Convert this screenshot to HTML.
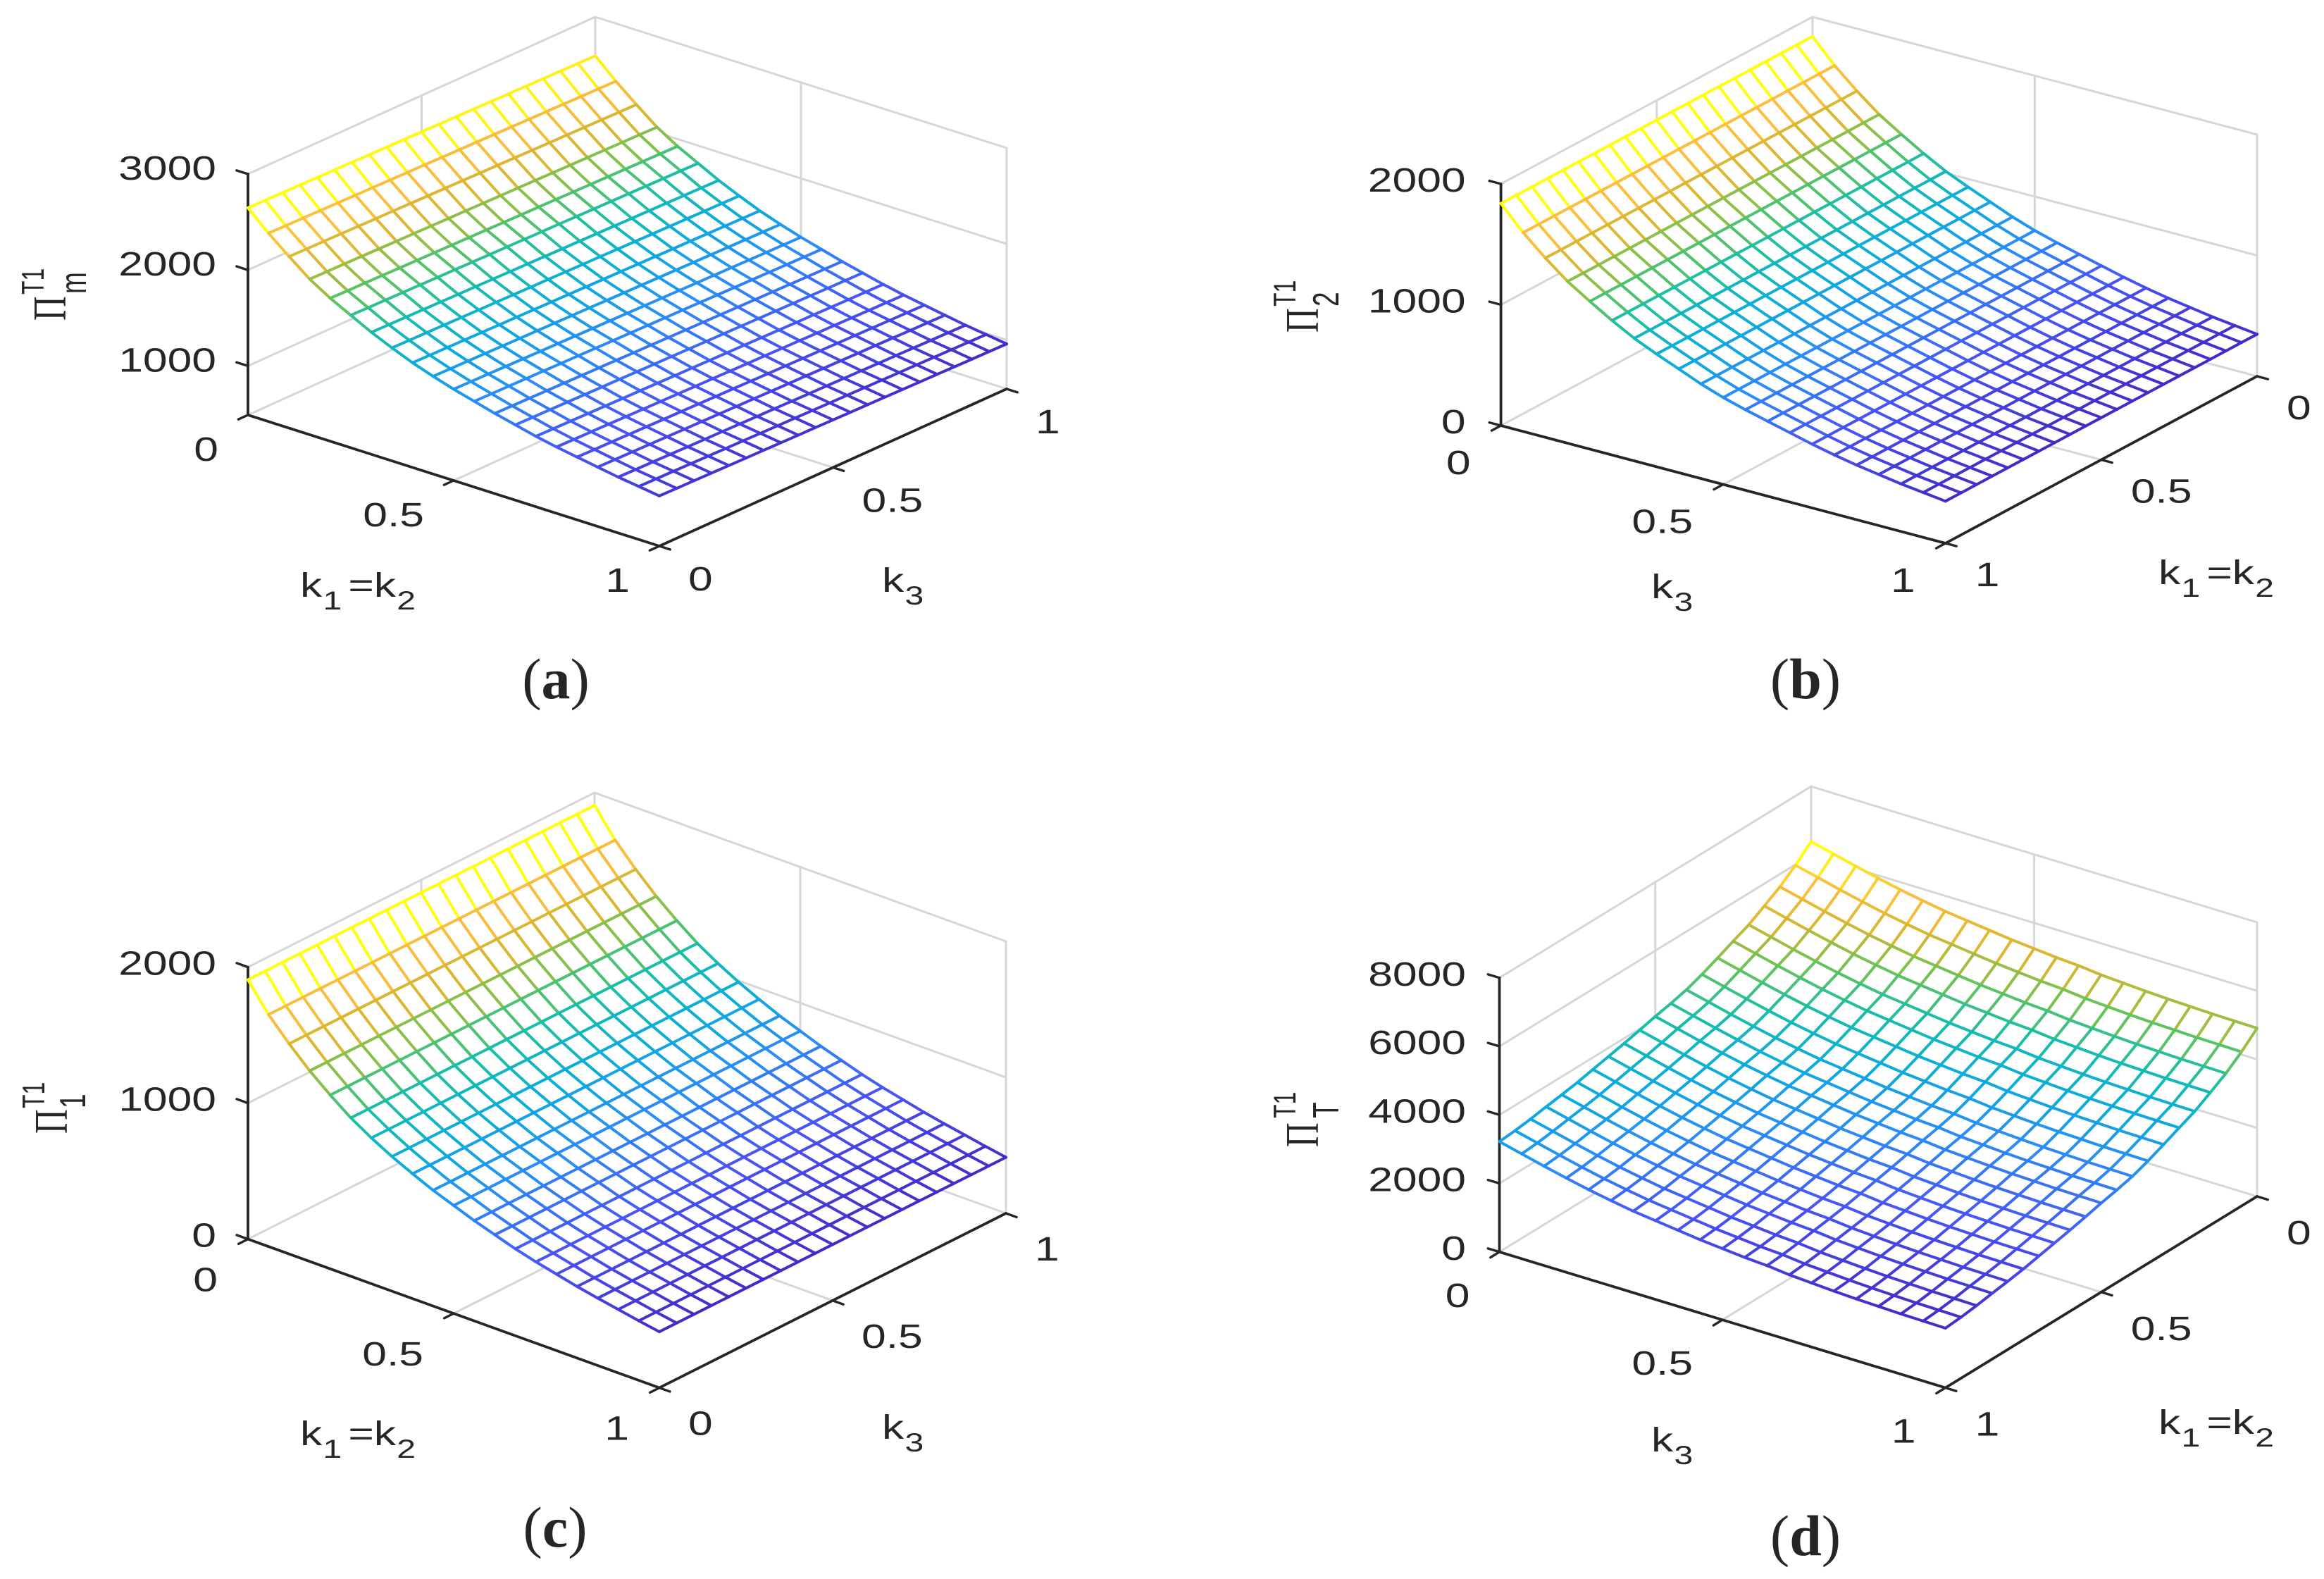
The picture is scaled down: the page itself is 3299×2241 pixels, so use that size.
<!DOCTYPE html>
<html lang="en">
<head>
<meta charset="utf-8">
<title>Profit surfaces</title>
<style>
html,body{margin:0;padding:0;background:#fff;}
svg{display:block;fill:#262626;font-family:"Liberation Sans",sans-serif;}
</style>
</head>
<body>
<svg id="figure" xmlns="http://www.w3.org/2000/svg" width="3299" height="2241" viewBox="0 0 3299 2241">
<rect width="3299" height="2241" fill="#ffffff"/>
<g id="panel-a"></g>
<g id="panel-b"></g>
<g id="panel-c"></g>
<g id="panel-d"></g>
</svg>
<script>
// ---------- data ----------
const kAsc = [0,0.05,0.1,0.15,0.2,0.25,0.3,0.35,0.4,0.45,0.5,0.55,0.6,0.65,0.7,0.75,0.8,0.85,0.9,0.95,1];
const kDesc = [1,0.95,0.9,0.85,0.8,0.75,0.7,0.65,0.6,0.55,0.5,0.45,0.4,0.35,0.3,0.25,0.2,0.15,0.1,0.05,0];
const axisTicks = [0,0.5,1];
const axisTickLabels = ['0','0.5','1'];
const zTicksA = [1000,2000,3000];
const zTicksB = [0,1000,2000];
const zTicksC = [0,1000,2000];
const zTicksD = [0,2000,4000,6000,8000];
const zDomainA = [489,3000];
const zDomainB = [0,2000];
const zDomainC = [0,2000];
const zDomainD = [0,8000];
const zA = [
[2648,2645,2643,2640,2637,2634,2632,2629,2626,2624,2621,2618,2616,2613,2610,2607,2605,2602,2599,2597,2594],
[2452,2449,2447,2444,2441,2438,2436,2433,2430,2428,2425,2422,2420,2417,2414,2411,2409,2406,2403,2401,2398],
[2277,2274,2272,2269,2266,2263,2261,2258,2255,2253,2250,2247,2245,2242,2239,2236,2234,2231,2228,2226,2223],
[2110,2107,2105,2102,2099,2096,2094,2091,2088,2086,2083,2080,2078,2075,2072,2069,2067,2064,2061,2059,2056],
[1979,1976,1974,1971,1968,1965,1963,1960,1957,1955,1952,1949,1947,1944,1941,1938,1936,1933,1930,1928,1925],
[1870,1867,1865,1862,1859,1856,1854,1851,1848,1846,1843,1840,1838,1835,1832,1829,1827,1824,1821,1819,1816],
[1761,1758,1756,1753,1750,1747,1745,1742,1739,1737,1734,1731,1729,1726,1723,1720,1718,1715,1712,1710,1707],
[1667,1664,1662,1659,1656,1653,1651,1648,1645,1643,1640,1637,1635,1632,1629,1626,1624,1621,1618,1616,1613],
[1580,1577,1575,1572,1569,1566,1564,1561,1558,1556,1553,1550,1548,1545,1542,1539,1537,1534,1531,1529,1526],
[1507,1504,1502,1499,1496,1493,1491,1488,1485,1483,1480,1477,1475,1472,1469,1466,1464,1461,1458,1456,1453],
[1441,1438,1436,1433,1430,1427,1425,1422,1419,1417,1414,1411,1409,1406,1403,1400,1398,1395,1392,1390,1387],
[1383,1380,1378,1375,1372,1369,1367,1364,1361,1359,1356,1353,1351,1348,1345,1342,1340,1337,1334,1332,1329],
[1325,1322,1320,1317,1314,1311,1309,1306,1303,1301,1298,1295,1293,1290,1287,1284,1282,1279,1276,1274,1271],
[1274,1271,1269,1266,1263,1260,1258,1255,1252,1250,1247,1244,1242,1239,1236,1233,1231,1228,1225,1223,1220],
[1223,1220,1218,1215,1212,1209,1207,1204,1201,1199,1196,1193,1191,1188,1185,1182,1180,1177,1174,1172,1169],
[1180,1177,1175,1172,1169,1166,1164,1161,1158,1156,1153,1150,1148,1145,1142,1139,1137,1134,1131,1129,1126],
[1143,1140,1138,1135,1132,1129,1127,1124,1121,1119,1116,1113,1111,1108,1105,1102,1100,1097,1094,1092,1089],
[1107,1104,1102,1099,1096,1093,1091,1088,1085,1083,1080,1077,1075,1072,1069,1066,1064,1061,1058,1056,1053],
[1071,1068,1066,1063,1060,1057,1055,1052,1049,1047,1044,1041,1039,1036,1033,1030,1028,1025,1022,1020,1017],
[1042,1039,1037,1034,1031,1028,1026,1023,1020,1018,1015,1012,1010,1007,1004,1001,999,996,993,991,988],
[1012,1009,1007,1004,1001,998,996,993,990,988,985,982,980,977,974,971,969,966,963,961,958]
];
const zB = [
[1838,1838,1838,1838,1838,1838,1838,1838,1838,1838,1838,1838,1838,1838,1838,1838,1838,1838,1838,1838,1838],
[1646,1646,1646,1646,1646,1646,1646,1646,1646,1646,1646,1646,1646,1646,1646,1646,1646,1646,1646,1646,1646],
[1484,1484,1484,1484,1484,1484,1484,1484,1484,1484,1484,1484,1484,1484,1484,1484,1484,1484,1484,1484,1484],
[1339,1339,1339,1339,1339,1339,1339,1339,1339,1339,1339,1339,1339,1339,1339,1339,1339,1339,1339,1339,1339],
[1223,1223,1223,1223,1223,1223,1223,1223,1223,1223,1223,1223,1223,1223,1223,1223,1223,1223,1223,1223,1223],
[1113,1113,1113,1113,1113,1113,1113,1113,1113,1113,1113,1113,1113,1113,1113,1113,1113,1113,1113,1113,1113],
[1014,1014,1014,1014,1014,1014,1014,1014,1014,1014,1014,1014,1014,1014,1014,1014,1014,1014,1014,1014,1014],
[933,933,933,933,933,933,933,933,933,933,933,933,933,933,933,933,933,933,933,933,933],
[858,858,858,858,858,858,858,858,858,858,858,858,858,858,858,858,858,858,858,858,858],
[783,783,783,783,783,783,783,783,783,783,783,783,783,783,783,783,783,783,783,783,783],
[719,719,719,719,719,719,719,719,719,719,719,719,719,719,719,719,719,719,719,719,719],
[667,667,667,667,667,667,667,667,667,667,667,667,667,667,667,667,667,667,667,667,667],
[620,620,620,620,620,620,620,620,620,620,620,620,620,620,620,620,620,620,620,620,620],
[574,574,574,574,574,574,574,574,574,574,574,574,574,574,574,574,574,574,574,574,574],
[528,528,528,528,528,528,528,528,528,528,528,528,528,528,528,528,528,528,528,528,528],
[487,487,487,487,487,487,487,487,487,487,487,487,487,487,487,487,487,487,487,487,487],
[452,452,452,452,452,452,452,452,452,452,452,452,452,452,452,452,452,452,452,452,452],
[423,423,423,423,423,423,423,423,423,423,423,423,423,423,423,423,423,423,423,423,423],
[394,394,394,394,394,394,394,394,394,394,394,394,394,394,394,394,394,394,394,394,394],
[371,371,371,371,371,371,371,371,371,371,371,371,371,371,371,371,371,371,371,371,371],
[348,348,348,348,348,348,348,348,348,348,348,348,348,348,348,348,348,348,348,348,348]
];
const zC = [
[1907,1907,1907,1907,1907,1907,1907,1907,1907,1907,1907,1907,1907,1907,1907,1907,1907,1907,1907,1907,1907],
[1706,1706,1706,1706,1706,1706,1706,1706,1706,1706,1706,1706,1706,1706,1706,1706,1706,1706,1706,1706,1706],
[1546,1546,1546,1546,1546,1546,1546,1546,1546,1546,1546,1546,1546,1546,1546,1546,1546,1546,1546,1546,1546],
[1402,1402,1402,1402,1402,1402,1402,1402,1402,1402,1402,1402,1402,1402,1402,1402,1402,1402,1402,1402,1402],
[1278,1278,1278,1278,1278,1278,1278,1278,1278,1278,1278,1278,1278,1278,1278,1278,1278,1278,1278,1278,1278],
[1165,1165,1165,1165,1165,1165,1165,1165,1165,1165,1165,1165,1165,1165,1165,1165,1165,1165,1165,1165,1165],
[1072,1072,1072,1072,1072,1072,1072,1072,1072,1072,1072,1072,1072,1072,1072,1072,1072,1072,1072,1072,1072],
[990,990,990,990,990,990,990,990,990,990,990,990,990,990,990,990,990,990,990,990,990],
[918,918,918,918,918,918,918,918,918,918,918,918,918,918,918,918,918,918,918,918,918],
[851,851,851,851,851,851,851,851,851,851,851,851,851,851,851,851,851,851,851,851,851],
[794,794,794,794,794,794,794,794,794,794,794,794,794,794,794,794,794,794,794,794,794],
[737,737,737,737,737,737,737,737,737,737,737,737,737,737,737,737,737,737,737,737,737],
[688,688,688,688,688,688,688,688,688,688,688,688,688,688,688,688,688,688,688,688,688],
[639,639,639,639,639,639,639,639,639,639,639,639,639,639,639,639,639,639,639,639,639],
[598,598,598,598,598,598,598,598,598,598,598,598,598,598,598,598,598,598,598,598,598],
[562,562,562,562,562,562,562,562,562,562,562,562,562,562,562,562,562,562,562,562,562],
[526,526,526,526,526,526,526,526,526,526,526,526,526,526,526,526,526,526,526,526,526],
[495,495,495,495,495,495,495,495,495,495,495,495,495,495,495,495,495,495,495,495,495],
[467,467,467,467,467,467,467,467,467,467,467,467,467,467,467,467,467,467,467,467,467],
[438,438,438,438,438,438,438,438,438,438,438,438,438,438,438,438,438,438,438,438,438],
[412,412,412,412,412,412,412,412,412,412,412,412,412,412,412,412,412,412,412,412,412]
];
const zD = [
[3220,3260,3320,3400,3470,3550,3650,3750,3850,3960,4080,4180,4300,4470,4670,4880,5080,5350,5630,5980,6390],
[3060,3100,3160,3240,3310,3390,3490,3590,3690,3800,3920,4020,4140,4310,4510,4720,4920,5190,5470,5820,6230],
[2900,2940,3000,3080,3150,3230,3330,3430,3530,3640,3760,3860,3980,4150,4350,4560,4760,5030,5310,5660,6070],
[2750,2790,2850,2930,3000,3080,3180,3280,3380,3490,3610,3710,3830,4000,4200,4410,4610,4880,5160,5510,5920],
[2610,2650,2710,2790,2860,2940,3040,3140,3240,3350,3470,3570,3690,3860,4060,4270,4470,4740,5020,5370,5780],
[2490,2530,2590,2670,2740,2820,2920,3020,3120,3230,3350,3450,3570,3740,3940,4150,4350,4620,4900,5250,5660],
[2380,2420,2480,2560,2630,2710,2810,2910,3010,3120,3240,3340,3460,3630,3830,4040,4240,4510,4790,5140,5550],
[2300,2340,2400,2480,2550,2630,2730,2830,2930,3040,3160,3260,3380,3550,3750,3960,4160,4430,4710,5060,5470],
[2220,2260,2320,2400,2470,2550,2650,2750,2850,2960,3080,3180,3300,3470,3670,3880,4080,4350,4630,4980,5390],
[2140,2180,2240,2320,2390,2470,2570,2670,2770,2880,3000,3100,3220,3390,3590,3800,4000,4270,4550,4900,5310],
[2080,2120,2180,2260,2330,2410,2510,2610,2710,2820,2940,3040,3160,3330,3530,3740,3940,4210,4490,4840,5250],
[2020,2060,2120,2200,2270,2350,2450,2550,2650,2760,2880,2980,3100,3270,3470,3680,3880,4150,4430,4780,5190],
[1980,2020,2080,2160,2230,2310,2410,2510,2610,2720,2840,2940,3060,3230,3430,3640,3840,4110,4390,4740,5150],
[1910,1950,2010,2090,2160,2240,2340,2440,2540,2650,2770,2870,2990,3160,3360,3570,3770,4040,4320,4670,5080],
[1870,1910,1970,2050,2120,2200,2300,2400,2500,2610,2730,2830,2950,3120,3320,3530,3730,4000,4280,4630,5040],
[1830,1870,1930,2010,2080,2160,2260,2360,2460,2570,2690,2790,2910,3080,3280,3490,3690,3960,4240,4590,5000],
[1800,1840,1900,1980,2050,2130,2230,2330,2430,2540,2660,2760,2880,3050,3250,3460,3660,3930,4210,4560,4970],
[1780,1820,1880,1960,2030,2110,2210,2310,2410,2520,2640,2740,2860,3030,3230,3440,3640,3910,4190,4540,4950],
[1760,1800,1860,1940,2010,2090,2190,2290,2390,2500,2620,2720,2840,3010,3210,3420,3620,3890,4170,4520,4930],
[1750,1790,1850,1930,2000,2080,2180,2280,2380,2490,2610,2710,2830,3000,3200,3410,3610,3880,4160,4510,4920],
[1740,1780,1840,1920,1990,2070,2170,2270,2370,2480,2600,2700,2820,2990,3190,3400,3600,3870,4150,4500,4910]
];
const xLabelParts13 = [['k',0],['3',1]];
const labelParts12 = [['k',0],['1',1],['=',0],['k',0],['2',1]];
const captionLetters = ['a','b','c','d'];

// ---------- colormap (parula-like) ----------
const cmapPos = [0,0.125,0.25,0.375,0.5,0.625,0.75,0.875,1];
const cmapRGB = [[66,44,200],[72,84,246],[42,140,248],[10,172,222],[22,190,170],[104,196,84],[216,182,48],[253,190,60],[255,255,10]];
function colorOf(t){
  t = Math.max(0, Math.min(1, t));
  let s = 0;
  while (s < cmapPos.length - 2 && t > cmapPos[s + 1]) s++;
  const f = (t - cmapPos[s]) / (cmapPos[s + 1] - cmapPos[s]);
  const c = cmapRGB[s].map((v, n) => Math.round(v + f * (cmapRGB[s + 1][n] - v)));
  return 'rgb(' + c.join(',') + ')';
}

// ---------- drawing helpers ----------
const NS = 'http://www.w3.org/2000/svg';
const AXIS_COLOR = '#262626';
const GRID_COLOR = '#d6d6d6';
function svgEl(tag, parent){
  const el = document.createElementNS(NS, tag);
  parent.appendChild(el);
  return el;
}
function drawLine(parent, p, q, color, width){
  const l = svgEl('line', parent);
  l.setAttribute('x1', p.x.toFixed(2));
  l.setAttribute('y1', p.y.toFixed(2));
  l.setAttribute('x2', q.x.toFixed(2));
  l.setAttribute('y2', q.y.toFixed(2));
  l.setAttribute('stroke', color);
  l.setAttribute('stroke-width', width);
  l.setAttribute('stroke-linecap', 'round');
  return l;
}
function stretchedText(parent, str, x, y, anchor){
  const t = svgEl('text', parent);
  t.setAttribute('transform', 'translate(' + x + ',' + y + ') scale(1.3,1)');
  t.setAttribute('text-anchor', anchor);
  t.setAttribute('font-size', '48');
  t.textContent = str;
  return t;
}
function partsText(parent, parts, x, y){
  const t = stretchedText(parent, '', x, y, 'start');
  let wasSub = 0;
  parts.forEach(function(part){
    const s = svgEl('tspan', t);
    s.setAttribute('font-size', part[1] ? '37' : '48');
    s.setAttribute('dy', part[1] === wasSub ? '0' : (part[1] ? '18' : '-18'));
    if (part[0] === '=') s.setAttribute('dx', '7');
    if (part[1]) s.setAttribute('dx', '1');
    s.textContent = part[0];
    wasSub = part[1];
  });
  return t;
}
function rotatedText(parent, str, x, y, size, family){
  const t = svgEl('text', parent);
  t.setAttribute('transform', 'translate(' + x + ',' + y + ') rotate(-90) scale(1,1.4)');
  t.setAttribute('font-size', size);
  t.setAttribute('font-family', family);
  t.textContent = str;
  return t;
}

// ---------- panel ----------
function drawPanel(cfg){
  const root = document.getElementById(cfg.id);
  const A = cfg.A, B = cfg.B, C = cfg.C;
  const D = {x: A.x + C.x - B.x, y: A.y + C.y - B.y};
  const z0 = cfg.zDomain[0], z1 = cfg.zDomain[1];
  const xScale = k => (k - cfg.xValues[0]) / (cfg.xValues[cfg.xValues.length - 1] - cfg.xValues[0]);
  const yScale = k => (k - cfg.yValues[0]) / (cfg.yValues[cfg.yValues.length - 1] - cfg.yValues[0]);
  const zScale = z => (z - z0) / (z1 - z0) * cfg.H;
  const project = function(xv, yv, zv){
    const u = xScale(xv), v = yScale(yv);
    return {
      x: A.x + u * (B.x - A.x) + v * (D.x - A.x),
      y: A.y + u * (B.y - A.y) + v * (D.y - A.y) - zScale(zv)
    };
  };
  const xa = cfg.xValues, ya = cfg.yValues;
  const xStart = xa[0], xEnd = xa[xa.length - 1], yStart = ya[0], yEnd = ya[ya.length - 1];

  // back walls and floor
  const walls = svgEl('g', root);
  
  
  const wallSeg = function(p, q, name){
    const l = drawLine(walls, p, q, GRID_COLOR, 3);
    
    
  };
  [z0].concat(cfg.zTicks.filter(t => t !== z0)).concat(cfg.zTicks.indexOf(z1) < 0 ? [z1] : []).forEach(function(z){
    wallSeg(project(xStart, yStart, z), project(xStart, yEnd, z), 'left-wall-z-gridline');
    wallSeg(project(xStart, yEnd, z), project(xEnd, yEnd, z), 'right-wall-z-gridline');
  });
  wallSeg(project(xStart, yEnd, z0), project(xStart, yEnd, z1), 'back-corner-edge');
  wallSeg(project(xEnd, yEnd, z0), project(xEnd, yEnd, z1), 'right-corner-edge');
  const midX = (xStart + xEnd) / 2, midY = (yStart + yEnd) / 2;
  wallSeg(project(midX, yStart, z0), project(midX, yEnd, z0), 'floor-x-gridline');
  wallSeg(project(midX, yEnd, z0), project(midX, yEnd, z1), 'right-wall-x-gridline');
  wallSeg(project(xStart, midY, z0), project(xEnd, midY, z0), 'floor-y-gridline');
  wallSeg(project(xStart, midY, z0), project(xStart, midY, z1), 'left-wall-y-gridline');

  // axis lines
  const axes = svgEl('g', root);
  
  
  const axisSeg = function(p, q, name){
    const l = drawLine(axes, p, q, AXIS_COLOR, 3.8);
    
    
  };
  axisSeg(project(xStart, yStart, z0), project(xEnd, yStart, z0), 'x-axis-line');
  axisSeg(project(xEnd, yStart, z0), project(xEnd, yEnd, z0), 'y-axis-line');
  axisSeg(project(xStart, yStart, z0), project(xStart, yStart, z1), 'z-axis-line');

  const norm = function(dx, dy){ const m = Math.hypot(dx, dy); return {x: dx / m, y: dy / m}; };
  const xDir = norm(B.x - C.x, B.y - C.y);
  const yDir = norm(B.x - A.x, B.y - A.y);
  const zDir = norm(A.x - B.x, A.y - B.y);

  // tick marks and labels: the first axis
  axisTicks.forEach(function(t, n){
    const k = xStart + (xEnd - xStart) * t;
    const p = project(k, yStart, z0);
    const m = drawLine(axes, p, {x: p.x + xDir.x * 15, y: p.y + xDir.y * 15}, AXIS_COLOR, 3.4);
    
    
    const lab = stretchedText(root, axisTickLabels[n], p.x + cfg.xLabelOffset[0], p.y + cfg.xLabelOffset[1] + 17, 'end');
    
    
  });
  // the second axis (runs 1..0 on panels b and d)
  axisTicks.forEach(function(t, n){
    const k = yStart + (yEnd - yStart) * t;
    const p = project(xEnd, k, z0);
    const m = drawLine(axes, p, {x: p.x + yDir.x * 16, y: p.y + yDir.y * 16}, AXIS_COLOR, 3.4);
    
    
    const lab = stretchedText(root, String(k), p.x + cfg.yLabelOffset[0], p.y + cfg.yLabelOffset[1] + 17, 'start');
    
    
  });
  // the z axis
  cfg.zTicks.forEach(function(t){
    const p = project(xStart, yStart, t);
    const m = drawLine(axes, p, {x: p.x + zDir.x * 17, y: p.y + zDir.y * 17}, AXIS_COLOR, 3.4);
    
    
    const lab = stretchedText(root, String(t), p.x + cfg.zLabelDx, p.y + cfg.zLabelDy + 17, 'end');
    
    
  });

  // surface: white hidden-line mask, then coloured mesh segments
  const Z = cfg.z;
  const nRows = Z.length, nCols = Z[0].length;
  const node = (i, j) => project(xa[i], ya[j], Z[i][j]);
  let outline = [];
  for (let j = 0; j < nCols; j++) outline.push(node(0, j));
  for (let i = 1; i < nRows; i++) outline.push(node(i, nCols - 1));
  for (let j = nCols - 2; j >= 0; j--) outline.push(node(nRows - 1, j));
  for (let i = nRows - 2; i > 0; i--) outline.push(node(i, 0));
  const mask = svgEl('polygon', root);
  
  
  mask.setAttribute('fill', '#ffffff');
  mask.setAttribute('points', outline.map(p => p.x.toFixed(1) + ',' + p.y.toFixed(1)).join(' '));

  let zMin = Infinity, zMax = -Infinity;
  Z.forEach(function(row){ row.forEach(function(v){ zMin = Math.min(zMin, v); zMax = Math.max(zMax, v); }); });
  const mesh = svgEl('g', root);
  
  
  const segColor = (a, b) => colorOf((Math.max(a, b) - zMin) / (zMax - zMin));
  for (let i = 0; i < nRows; i++){
    for (let j = 0; j < nCols; j++){
      if (j < nCols - 1){
        const s1 = drawLine(mesh, node(i, j), node(i, j + 1), segColor(Z[i][j], Z[i][j + 1]), 4);
        
        
      }
      if (i < nRows - 1){
        const s2 = drawLine(mesh, node(i, j), node(i + 1, j), segColor(Z[i][j], Z[i + 1][j]), 4);
        
        
      }
    }
  }

  // axis titles
  const xt = partsText(root, cfg.xTitle.parts, cfg.xTitle.x, cfg.xTitle.y);
  
  
  const yt = partsText(root, cfg.yTitle.parts, cfg.yTitle.x, cfg.yTitle.y);
  
  

  const zg = svgEl('g', root);
  
  
  const pi = rotatedText(zg, '\u03A0', cfg.zTitle.pi[0], cfg.zTitle.pi[1], 48, '"Liberation Serif", serif');
  
  
  const sup = rotatedText(zg, 'T1', cfg.zTitle.sup[0], cfg.zTitle.sup[1], 32, '"Liberation Sans", sans-serif');
  
  
  const sub = rotatedText(zg, cfg.zTitle.subText, cfg.zTitle.sub[0], cfg.zTitle.sub[1], 37, '"Liberation Sans", sans-serif');
  
  

  // caption
  const cap = svgEl('text', root);
  
  
  cap.setAttribute('x', cfg.caption.x);
  cap.setAttribute('y', cfg.caption.y);
  cap.setAttribute('text-anchor', 'middle');
  cap.setAttribute('font-size', '82');
  cap.setAttribute('font-family', '"Liberation Serif", serif');
  cap.appendChild(document.createTextNode('('));
  const capLetter = svgEl('tspan', cap);
  capLetter.setAttribute('font-weight', 'bold');
  capLetter.textContent = cfg.caption.letter;
  cap.appendChild(document.createTextNode(')'));
}

drawPanel({
  id: 'panel-a', z: zA, zDomain: zDomainA, zTicks: zTicksA, xValues: kAsc, yValues: kAsc,
  A: {x: 352, y: 589}, B: {x: 936, y: 775}, C: {x: 1429, y: 552}, H: 342,
  xLabelOffset: [-42, 48], yLabelOffset: [41, 46], zLabelDx: -45, zLabelDy: -9,
  xTitle: {parts: labelParts12, x: 426, y: 847}, yTitle: {parts: xLabelParts13, x: 1252, y: 840},
  zTitle: {pi: [93, 455], sup: [62, 418], sub: [122, 417], subText: 'm'},
  caption: {letter: captionLetters[0], x: 789, y: 991}
});
drawPanel({
  id: 'panel-b', z: zB, zDomain: zDomainB, zTicks: zTicksB, xValues: kAsc, yValues: kDesc,
  A: {x: 2130.6, y: 604}, B: {x: 2761.7, y: 771}, C: {x: 3204, y: 534}, H: 343,
  xLabelOffset: [-43, 52], yLabelOffset: [42, 44], zLabelDx: -50, zLabelDy: -6,
  xTitle: {parts: xLabelParts13, x: 2344, y: 849}, yTitle: {parts: labelParts12, x: 3064, y: 829},
  zTitle: {pi: [1871, 472], sup: [1839, 435], sub: [1900, 435], subText: '2'},
  caption: {letter: captionLetters[1], x: 2563, y: 991}
});
drawPanel({
  id: 'panel-c', z: zC, zDomain: zDomainC, zTicks: zTicksC, xValues: kAsc, yValues: kAsc,
  A: {x: 352, y: 1758.6}, B: {x: 936, y: 1969.6}, C: {x: 1428, y: 1722}, H: 386,
  xLabelOffset: [-43, 57], yLabelOffset: [41, 50], zLabelDx: -45, zLabelDy: -6,
  xTitle: {parts: labelParts12, x: 426, y: 2051}, yTitle: {parts: xLabelParts13, x: 1252, y: 2042},
  zTitle: {pi: [95, 1609], sup: [63, 1573], sub: [121, 1573], subText: '1'},
  caption: {letter: captionLetters[2], x: 788, y: 2195}
});
drawPanel({
  id: 'panel-d', z: zD, zDomain: zDomainD, zTicks: zTicksD, xValues: kAsc, yValues: kDesc,
  A: {x: 2128.5, y: 1776.8}, B: {x: 2761.6, y: 1969.6}, C: {x: 3204, y: 1698}, H: 389,
  xLabelOffset: [-42, 61], yLabelOffset: [42, 51], zLabelDx: -47.5, zLabelDy: -6,
  xTitle: {parts: xLabelParts13, x: 2344, y: 2060}, yTitle: {parts: labelParts12, x: 3064, y: 2035},
  zTitle: {pi: [1871, 1628], sup: [1839, 1587], sub: [1900, 1587], subText: 'T'},
  caption: {letter: captionLetters[3], x: 2563, y: 2207}
});
</script>
</body>
</html>
